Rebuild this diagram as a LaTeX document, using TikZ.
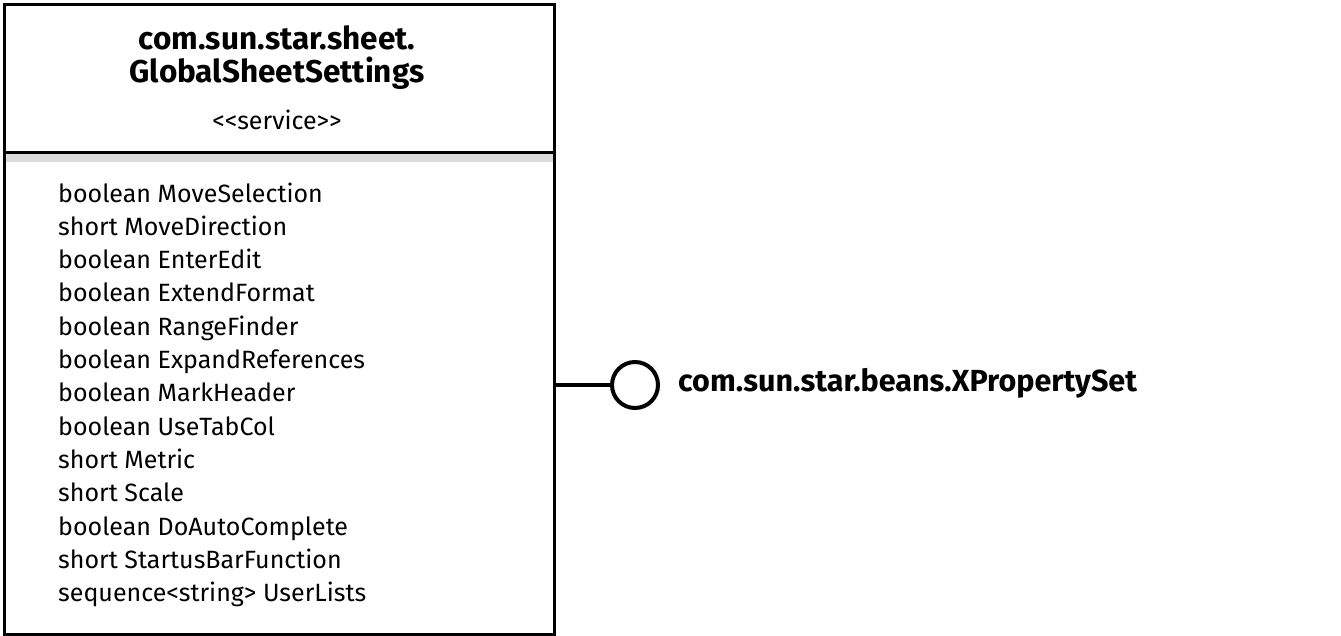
\documentclass[tikz,border=0pt]{standalone}
\usepackage{fontspec}
\setmainfont{Fira Sans}
\begin{document}
\begin{tikzpicture}[x=1pt,y=-1pt,
  frame/.style={draw=black,line width=3pt},
  attr/.style={anchor=base west,inner sep=0pt,font=\fontsize{25}{25}\selectfont},
  title/.style={anchor=center,inner sep=0pt,align=center,font=\fontsize{31.5}{33}\selectfont\bfseries},
  lollipop/.style={draw=black,line width=4pt,fill=white}]
\useasboundingbox (0,0) rectangle (1341,635);
\fill[white] (0,0) rectangle (1341,635);
% class box
\fill[black!14] (2.5,153) rectangle (552.5,162);
\node[frame,minimum width=550pt,minimum height=630pt,anchor=north west,inner sep=0pt] (cls) at (2.5,2.5) {};
\draw[line width=3pt] (cls.west |- 0,152) -- (cls.east |- 0,152);
\node[title] (name) at (277,58) {com.sun.star.sheet.\\GlobalSheetSettings};
\node[anchor=center,inner sep=0pt,font=\fontsize{25}{25}\selectfont] (stereo) at (277,120) {<{}<service>{}>};
% attributes
\foreach \t [count=\i from 0] in {boolean MoveSelection,short MoveDirection,boolean EnterEdit,boolean ExtendFormat,boolean RangeFinder,boolean ExpandReferences,boolean MarkHeader,boolean UseTabCol,short Metric,short Scale,boolean DoAutoComplete,short StartusBarFunction,sequence<{}string>{} UserLists}
  \node[attr] (a\i) at (58,{202+33.3*\i}) {\t};
% interface
\node[lollipop,circle,minimum size=46pt,inner sep=0pt] (iface) at (635,385) {};
\draw[line width=4pt] (cls.east |- iface) -- (iface.west);
\node[anchor=west,inner sep=0pt,font=\fontsize{30.5}{30.5}\selectfont\bfseries] (ilabel) at (678,383) {com.sun.star.beans.XPropertySet};
\end{tikzpicture}
\end{document}
